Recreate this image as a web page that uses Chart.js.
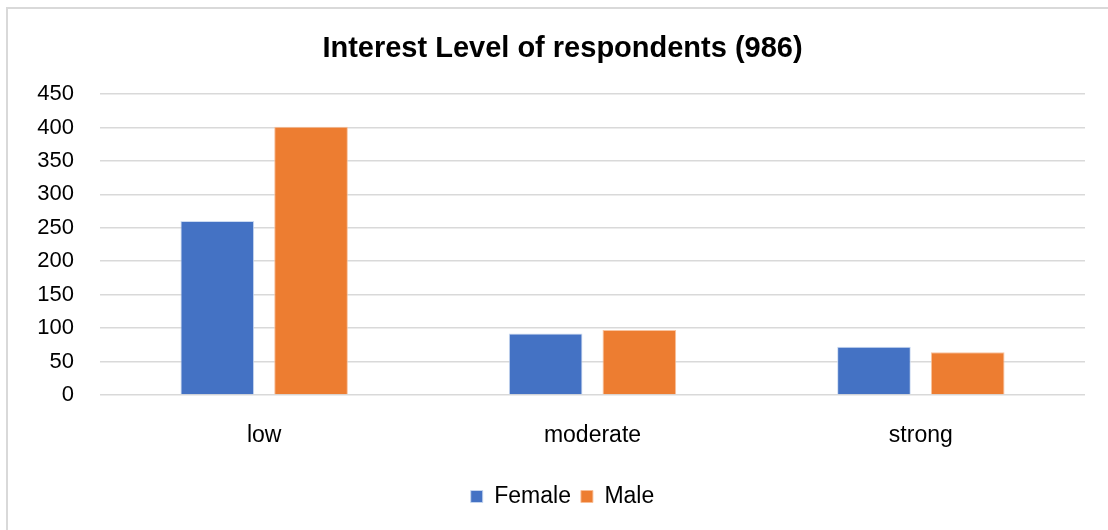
<!DOCTYPE html>
<html>
<head>
<meta charset="utf-8">
<script src="https://cdn.jsdelivr.net/npm/chart.js@4.4.1/dist/chart.umd.min.js"></script>
<style>
  html, body { margin: 0; padding: 0; background: #ffffff; }
  #wrap { position: relative; width: 1108px; height: 530px; }
  canvas { display: block; }
</style>
</head>
<body>
<div id="wrap"><canvas id="chart" width="1108" height="530"></canvas></div>
<script>
// Respondents by interest level, split by gender (total 986)
const categories = ['low', 'moderate', 'strong'];
const female = [260, 92, 72];
const male = [401, 97, 64];
const yTicks = [0, 50, 100, 150, 200, 250, 300, 350, 400, 450];

const FONT = "'Liberation Sans', Arial, sans-serif";
const GRID = '#d9d9d9';

// White page background and the light frame around the chart
const framePlugin = {
  id: 'frame',
  afterLayout(chart) {
    // centre title and legend on the full frame rather than the padded box
    const shift = 20;
    if (chart.titleBlock) { chart.titleBlock.left += shift; chart.titleBlock.right += shift; }
    if (chart.legend) { chart.legend.left += shift; chart.legend.right += shift; }
  },
  beforeDraw(chart) {
    const ctx = chart.ctx;
    ctx.save();
    ctx.fillStyle = '#ffffff';
    ctx.fillRect(0, 0, chart.width, chart.height);
    ctx.strokeStyle = GRID;
    ctx.lineWidth = 2;
    ctx.beginPath();
    ctx.moveTo(7, chart.height);
    ctx.lineTo(7, 8);
    ctx.lineTo(chart.width, 8);
    ctx.stroke();
    ctx.restore();
  }
};

new Chart(document.getElementById('chart'), {
  type: 'bar',
  data: {
    labels: categories,
    datasets: [
      { label: 'Female', data: female, backgroundColor: '#4472C4',
        borderColor: 'rgba(200,215,240,0.9)', borderWidth: 1,
        categoryPercentage: 0.571, barPercentage: 0.786 },
      { label: 'Male', data: male, backgroundColor: '#ED7D31',
        borderColor: 'rgba(248,190,150,0.9)', borderWidth: 1,
        categoryPercentage: 0.571, barPercentage: 0.786 }
    ]
  },
  options: {
    responsive: false,
    animation: false,
    devicePixelRatio: 1,
    layout: { padding: { left: 0, right: 23, top: 0, bottom: 12 } },
    plugins: {
      title: {
        display: true,
        text: 'Interest Level of respondents (986)',
        color: '#000000',
        font: { family: FONT, size: 29, weight: 'bold' },
        padding: { top: 31.5, bottom: 27.7 }
      },
      legend: {
        position: 'bottom',
        labels: {
          color: '#000000',
          font: { family: FONT, size: 23 },
          boxWidth: 12,
          boxHeight: 12,
          padding: 10
        }
      },
      tooltip: { enabled: false }
    },
    scales: {
      x: {
        grid: { display: false },
        border: { display: false },
        ticks: { color: '#000000', font: { family: FONT, size: 23 }, padding: 19 },
        afterFit(scale) { scale.height = 80; }
      },
      y: {
        min: 0,
        max: 450,
        afterBuildTicks(scale) { scale.ticks = yTicks.map(v => ({ value: v })); },
        grid: { color: GRID, lineWidth: 1.5, drawTicks: false },
        border: { display: false },
        ticks: { color: '#000000', font: { family: FONT, size: 22 }, padding: 26 },
        afterFit(scale) { scale.width = 100; }
      }
    }
  },
  plugins: [framePlugin]
});
</script>
</body>
</html>
